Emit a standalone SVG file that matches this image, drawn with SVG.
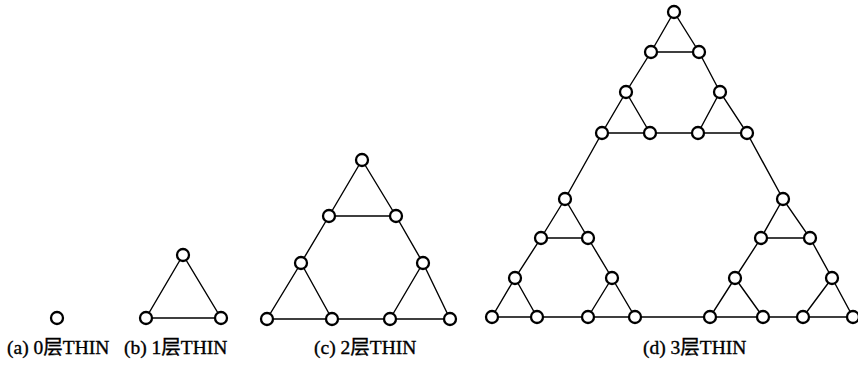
<svg xmlns="http://www.w3.org/2000/svg" width="858" height="365" viewBox="0 0 858 365">
<style>
.e{stroke:#000;stroke-width:1.4;fill:none}
.n{fill:#fff;stroke:#000;stroke-width:2.3}
.t{font-family:"Liberation Serif","Noto Sans CJK SC",serif;font-size:19.5px;fill:#000;stroke:#000;stroke-width:0.35}
</style>
<rect width="858" height="365" fill="#fff"/>
<g id="connectors" class="e">
<path d="M183,255 L146,318 L221,318 Z"/>
<path d="M362,160 L329,216 L301,263 L267,319 L332,319 L390,319 L450,319 L423,263 L396,216 Z"/>
<path d="M329,216 L396,216 M301,263 L332,319 M423,263 L390,319"/>
<path d="M674,12 L651,52 L626,92 L602,133 L650,133 L698,133 L747,133 L720,92 L699,52 Z"/>
<path d="M651,52 L699,52 M626,92 L650,133 M720,92 L698,133"/>
<path d="M565,199 L541,238 L515,278 L492,317 L537,317 L588,317 L635,317 L612,278 L588,238 Z"/>
<path d="M541,238 L588,238 M515,278 L537,317 M612,278 L588,317"/>
<path d="M783,199 L761,238 L735,278 L710,317 L763,317 L803,317 L853,317 L832,278 L810,238 Z"/>
<path d="M761,238 L810,238 M735,278 L763,317 M832,278 L803,317"/>
<path d="M602,133 L565,199 M747,133 L783,199 M635,317 L710,317"/>
</g>
<g id="graph-a"><circle class="n" cx="57" cy="318" r="6"/></g>
<g id="graph-b">
<circle class="n" cx="183" cy="255" r="6"/><circle class="n" cx="146" cy="318" r="6"/><circle class="n" cx="221" cy="318" r="6"/>
</g>
<g id="graph-c">
<circle class="n" cx="362" cy="160" r="6"/><circle class="n" cx="329" cy="216" r="6"/><circle class="n" cx="396" cy="216" r="6"/>
<circle class="n" cx="301" cy="263" r="6"/><circle class="n" cx="423" cy="263" r="6"/>
<circle class="n" cx="267" cy="319" r="6"/><circle class="n" cx="332" cy="319" r="6"/><circle class="n" cx="390" cy="319" r="6"/><circle class="n" cx="450" cy="319" r="6"/>
</g>
<g id="graph-d-top">
<circle class="n" cx="674" cy="12" r="6"/><circle class="n" cx="651" cy="52" r="6"/><circle class="n" cx="699" cy="52" r="6"/>
<circle class="n" cx="626" cy="92" r="6"/><circle class="n" cx="720" cy="92" r="6"/>
<circle class="n" cx="602" cy="133" r="6"/><circle class="n" cx="650" cy="133" r="6"/><circle class="n" cx="698" cy="133" r="6"/><circle class="n" cx="747" cy="133" r="6"/>
</g>
<g id="graph-d-left">
<circle class="n" cx="565" cy="199" r="6"/><circle class="n" cx="541" cy="238" r="6"/><circle class="n" cx="588" cy="238" r="6"/>
<circle class="n" cx="515" cy="278" r="6"/><circle class="n" cx="612" cy="278" r="6"/>
<circle class="n" cx="492" cy="317" r="6"/><circle class="n" cx="537" cy="317" r="6"/><circle class="n" cx="588" cy="317" r="6"/><circle class="n" cx="635" cy="317" r="6"/>
</g>
<g id="graph-d-right">
<circle class="n" cx="783" cy="199" r="6"/><circle class="n" cx="761" cy="238" r="6"/><circle class="n" cx="810" cy="238" r="6"/>
<circle class="n" cx="735" cy="278" r="6"/><circle class="n" cx="832" cy="278" r="6"/>
<circle class="n" cx="710" cy="317" r="6"/><circle class="n" cx="763" cy="317" r="6"/><circle class="n" cx="803" cy="317" r="6"/><circle class="n" cx="853" cy="317" r="6"/>
</g>
<g id="labels">
<text class="t" x="7" y="354">(a) 0层THIN</text>
<text class="t" x="124" y="354">(b) 1层THIN</text>
<text class="t" x="314" y="354">(c) 2层THIN</text>
<text class="t" x="643" y="354">(d) 3层THIN</text>
</g>
</svg>
